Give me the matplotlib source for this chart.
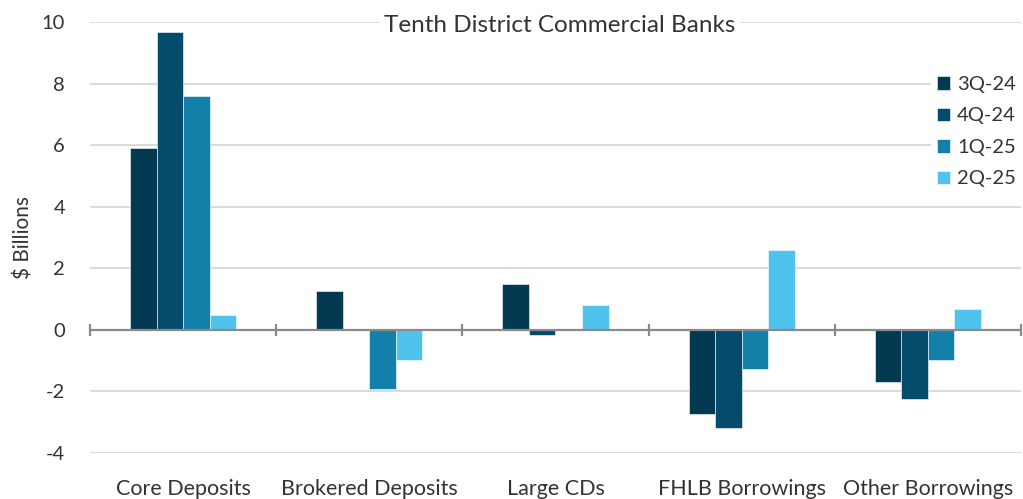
import numpy as np
import matplotlib
matplotlib.use('Agg')
import matplotlib.pyplot as plt

# data ($ billions, quarterly change)
categories = ['Core Deposits', 'Brokered Deposits', 'Large CDs', 'FHLB Borrowings', 'Other Borrowings']
quarters = ['3Q-24', '4Q-24', '1Q-25', '2Q-25']
q3_24 = [5.91, 1.25, 1.49, -2.72, -1.68]
q4_24 = [9.68, 0.0, -0.17, -3.18, -2.23]
q1_25 = [7.60, -1.93, 0.0, -1.28, -0.98]
q2_25 = [0.49, -0.98, 0.81, 2.60, 0.68]
colors = ['#033a52', '#044b6c', '#1380aa', '#50c3ed']

plt.rcParams['font.family'] = ['Lato', 'DejaVu Sans']
plt.rcParams['axes.unicode_minus'] = False
text_col = '#333333'

fig = plt.figure(figsize=(10.23, 4.99), dpi=100)
ax = fig.add_axes([0.088, 0.0922, 0.910, 0.8637])

x = np.arange(len(categories))
w = 0.1425
series = [q3_24, q4_24, q1_25, q2_25]
for i, (vals, lab, c) in enumerate(zip(series, quarters, colors)):
    ax.bar(x + (i - 1.5) * w, vals, width=w, color=c, label=lab,
           edgecolor='#ffffff', linewidth=0.4, zorder=3)

ax.set_xlim(-0.5, len(categories) - 0.5)
ax.set_ylim(-4, 10)
ax.set_yticks(np.arange(-4, 11, 2))
ax.grid(axis='y', color='#dadada', linewidth=1.4, zorder=0)
ax.axhline(0, color='#8a8a8a', linewidth=1.6, zorder=4)
# little ticks on the zero line between groups
bounds = np.arange(len(categories) + 1) - 0.5
ax.vlines(bounds, -0.2, 0.2, color='#8a8a8a', linewidth=1.6, zorder=4, clip_on=False)

for s in ax.spines.values():
    s.set_visible(False)
ax.set_xticks(x)
ax.set_xticklabels(categories, fontsize=15.5, color=text_col)
ax.tick_params(axis='x', length=0, pad=19)
ax.tick_params(axis='y', length=0, pad=18, labelsize=14.5, labelcolor=text_col)
ax.set_ylabel('$ Billions', fontsize=15, color=text_col, labelpad=6)

ax.text(0.505, 0.993, 'Tenth District Commercial Banks', transform=ax.transAxes,
        ha='center', va='center', fontsize=17.5, color=text_col, zorder=5,
        bbox=dict(facecolor='white', edgecolor='none', pad=3))

leg = ax.legend(loc='upper left', bbox_to_anchor=(0.9, 0.88), bbox_transform=fig.transFigure,
                frameon=True, facecolor='white', edgecolor='none', framealpha=1, fancybox=False,
                borderpad=0.3, fontsize=14.5, handlelength=0.65, handleheight=0.65,
                handletextpad=0.35, labelspacing=0.72, labelcolor=text_col)
leg.set_zorder(6)

fig.savefig('out.png', dpi=100)
